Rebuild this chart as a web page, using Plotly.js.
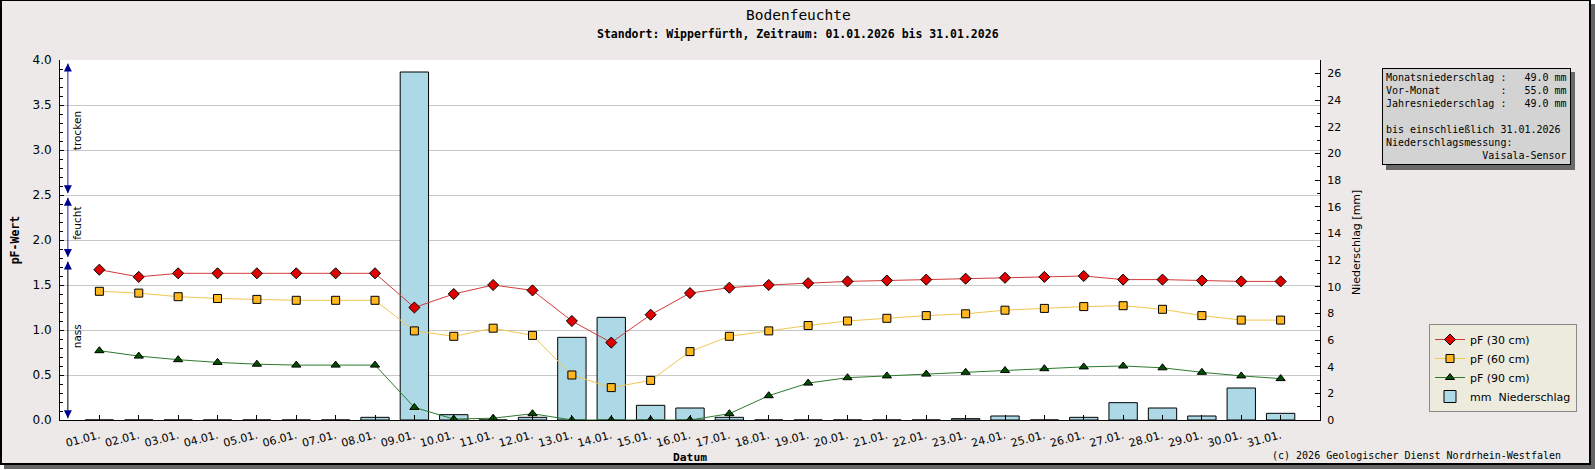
<!DOCTYPE html>
<html>
<head>
<meta charset="utf-8">
<script src="https://cdn.plot.ly/plotly-3.0.1.min.js"></script>
<style>
  body { margin: 0; background: #fff; }
  #myDiv {
    position: absolute; left: 0; top: 0;
    width: 1587px; height: 462px;
    border: 2px solid #000; border-top-width: 1px;
    box-shadow: 4px 4px 0 #666;
  }
</style>
</head>
<body>
<div id="myDiv"></div>
<script>
var days = ['01.01.', '02.01.', '03.01.', '04.01.', '05.01.', '06.01.', '07.01.', '08.01.',
  '09.01.', '10.01.', '11.01.', '12.01.', '13.01.', '14.01.', '15.01.', '16.01.',
  '17.01.', '18.01.', '19.01.', '20.01.', '21.01.', '22.01.', '23.01.', '24.01.',
  '25.01.', '26.01.', '27.01.', '28.01.', '29.01.', '30.01.', '31.01.'];

var pf30 = [1.67, 1.59, 1.63, 1.63, 1.63, 1.63, 1.63, 1.63, 1.25, 1.40, 1.50, 1.44, 1.10, 0.86, 1.17, 1.41,
  1.47, 1.50, 1.52, 1.54, 1.55, 1.56, 1.57, 1.58, 1.59, 1.60, 1.56, 1.56, 1.55, 1.54, 1.54];
var pf60 = [1.43, 1.41, 1.37, 1.35, 1.34, 1.33, 1.33, 1.33, 0.99, 0.93, 1.02, 0.94, 0.50, 0.36, 0.44, 0.76,
  0.93, 0.99, 1.05, 1.10, 1.13, 1.16, 1.18, 1.22, 1.24, 1.26, 1.27, 1.23, 1.16, 1.11, 1.11];
var pf90 = [0.77, 0.71, 0.67, 0.64, 0.62, 0.61, 0.61, 0.61, 0.14, 0.01, 0.02, 0.07, 0.00, 0.00, 0.00, 0.00,
  0.07, 0.27, 0.41, 0.47, 0.49, 0.51, 0.53, 0.55, 0.57, 0.59, 0.60, 0.58, 0.53, 0.49, 0.46];
var rain = [0, 0, 0, 0, 0, 0, 0, 0.2, 26.1, 0.4, 0, 0.2, 6.2, 7.7, 1.1, 0.9,
  0.2, 0, 0, 0, 0, 0, 0.1, 0.3, 0, 0.2, 1.3, 0.9, 0.3, 2.4, 0.5];

// soil moisture classes on the pF axis
var zoneNames = ['trocken', 'feucht', 'nass'];
var zoneLow = [2.52, 1.81, 0.02];
var zoneHigh = [3.96, 2.47, 1.76];
var zoneLabelY = [3.22, 2.19, 0.93];
var zoneColor = ['#2020b0', '#2020b0', '#000000'];

var infoLines = [
  'Monatsniederschlag :   49.0 mm',
  'Vor-Monat          :   55.0 mm',
  'Jahresniederschlag :   49.0 mm',
  '',
  'bis einschließlich 31.01.2026',
  'Niederschlagsmessung:',
  '                Vaisala-Sensor'
];

var xIdx = [];
for (let i = 0; i < days.length; i++) {
  xIdx.push(i);
}

// pixel helpers for the plot area (60..1320 x 60..420)
function px(x) { return (x - 60) / 1260; }
function py(y) { return (420 - y) / 360; }

var sansFont = 'DejaVu Sans, sans-serif';
var monoFont = 'DejaVu Sans Mono, monospace';

var bars = {
  x: xIdx, y: rain, type: 'bar', name: 'mm\u00a0\u00a0Niederschlag',
  width: 0.72, yaxis: 'y', legendrank: 4,
  marker: {color: '#add8e6', line: {color: '#000', width: 1}}
};
var line30 = {
  x: xIdx, y: pf30, type: 'scatter', mode: 'lines+markers', name: 'pF (30 cm)',
  yaxis: 'y2', legendrank: 1,
  line: {color: '#d43a3a', width: 1},
  marker: {symbol: 'diamond', size: 8.5, color: '#e00000', line: {color: '#000', width: 1}}
};
var line60 = {
  x: xIdx, y: pf60, type: 'scatter', mode: 'lines+markers', name: 'pF (60 cm)',
  yaxis: 'y2', legendrank: 2,
  line: {color: '#f2c650', width: 1},
  marker: {symbol: 'square', size: 8, color: '#ffb820', line: {color: '#000', width: 1}}
};
var line90 = {
  x: xIdx, y: pf90, type: 'scatter', mode: 'lines+markers', name: 'pF (90 cm)',
  yaxis: 'y2', legendrank: 3,
  line: {color: '#2d7a2d', width: 1},
  marker: {symbol: 'triangle-up', size: 8, color: '#005000', line: {color: '#000', width: 1}}
};

var shapes = [];
var annotations = [];

for (let i = 0; i < zoneNames.length; i++) {
  shapes.push({
    type: 'line', xref: 'x', yref: 'y2', x0: -0.8, x1: -0.8,
    y0: zoneLow[i], y1: zoneHigh[i], line: {color: zoneColor[i], width: 1}
  });
  annotations.push({
    xref: 'x', yref: 'y2', x: -0.8, y: zoneHigh[i], ax: 0, ay: 7,
    showarrow: true, arrowhead: 2, arrowsize: 1.6, arrowwidth: 1, arrowcolor: '#000090', text: ''
  });
  annotations.push({
    xref: 'x', yref: 'y2', x: -0.8, y: zoneLow[i], ax: 0, ay: -7,
    showarrow: true, arrowhead: 2, arrowsize: 1.6, arrowwidth: 1, arrowcolor: '#000090', text: ''
  });
  annotations.push({
    xref: 'x', yref: 'y2', x: -0.57, y: zoneLabelY[i], text: zoneNames[i],
    xanchor: 'center', yanchor: 'middle',
    textangle: -90, showarrow: false, font: {family: sansFont, size: 10.5, color: '#000'}
  });
}

function label(x, y, text, font, extra) {
  var a = {xref: 'paper', yref: 'paper', x: x, y: y, text: text, showarrow: false,
    xanchor: 'center', yanchor: 'middle', font: font};
  for (var k in extra) {
    a[k] = extra[k];
  }
  annotations.push(a);
}

// titles and captions
label(px(798), py(14.5), 'Bodenfeuchte', {family: monoFont, size: 14.5, color: '#000'}, {});
label(px(798), py(33.5), '<b>Standort: Wipperfürth, Zeitraum: 01.01.2026 bis 31.01.2026</b>',
  {family: monoFont, size: 11.5, color: '#000'}, {});
label(0.5, py(457), '<b>Datum</b>', {family: monoFont, size: 11.3, color: '#000'}, {});
label(px(15.3), 0.5, '<b>pF-Wert</b>', {family: monoFont, size: 11.5, color: '#000'}, {textangle: -90});
label(px(1356), py(242), 'Niederschlag [mm]', {family: sansFont, size: 11, color: '#000'}, {textangle: -90});
label(px(1563), py(455), '(c) 2026 Geologischer Dienst Nordrhein-Westfalen',
  {family: monoFont, size: 10, color: '#000'}, {xanchor: 'right'});

// info box
var infoText = infoLines.map(function (l) {
  return l === '' ? '\u00a0' : l.replace(/ /g, '\u00a0');
}).join('<br>');
shapes.push({type: 'rect', xref: 'paper', yref: 'paper', layer: 'below',
  x0: px(1386), x1: px(1575), y0: py(170), y1: py(72),
  fillcolor: '#6a6a6a', line: {width: 0}});
label(px(1382), py(68), infoText, {family: monoFont, size: 10, color: '#000'},
  {xanchor: 'left', yanchor: 'top', align: 'left',
    bgcolor: '#d3d3d3', bordercolor: '#000', borderwidth: 1, borderpad: 3});

// legend shadow
shapes.push({type: 'rect', xref: 'paper', yref: 'paper', layer: 'below',
  x0: px(1433), x1: px(1573), y0: py(402), y1: py(328),
  fillcolor: '#6a6a6a', line: {width: 0}});

var data = [bars, line30, line60, line90];

var layout = {
  width: 1587, height: 462,
  margin: {l: 58, r: 269, t: 59, b: 43},
  paper_bgcolor: '#ece9e8', plot_bgcolor: '#fff',
  showlegend: true,
  legend: {
    x: px(1429), y: py(324), xanchor: 'left', yanchor: 'top',
    bgcolor: '#ecebde', bordercolor: '#8a8a8a', borderwidth: 1,
    font: {family: sansFont, size: 11, color: '#000'},
    itemwidth: 30, tracegroupgap: 0
  },
  xaxis: {
    range: [-1, 31], tickvals: xIdx, ticktext: days, tickangle: -15,
    ticks: 'inside', ticklen: 5, tickcolor: '#000',
    showline: true, linecolor: '#000', linewidth: 1,
    showgrid: false, zeroline: false, ticklabelstandoff: 4,
    tickfont: {family: sansFont, size: 11, color: '#000'}
  },
  yaxis: {
    side: 'right', range: [0, 27], dtick: 2,
    ticks: 'inside', ticklen: 5, tickcolor: '#000',
    minor: {dtick: 1, ticks: 'inside', ticklen: 3, tickcolor: '#000', showgrid: false},
    showline: true, linecolor: '#000', linewidth: 1,
    showgrid: false, zeroline: false, ticklabelstandoff: 4,
    tickfont: {family: sansFont, size: 11, color: '#000'}
  },
  yaxis2: {
    side: 'left', overlaying: 'y', range: [0, 4], dtick: 0.5, tickformat: '.1f',
    ticks: 'inside', ticklen: 4, tickcolor: '#000',
    minor: {dtick: 0.1, ticks: 'inside', ticklen: 3, tickcolor: '#000', showgrid: false},
    showline: true, linecolor: '#000', linewidth: 1,
    showgrid: true, gridcolor: '#c8c8c8', zeroline: false, ticklabelstandoff: 5,
    tickfont: {family: sansFont, size: 12, color: '#000'}
  },
  shapes: shapes,
  annotations: annotations
};

Plotly.newPlot('myDiv', data, layout, {displayModeBar: false, staticPlot: true});
</script>
</body>
</html>
